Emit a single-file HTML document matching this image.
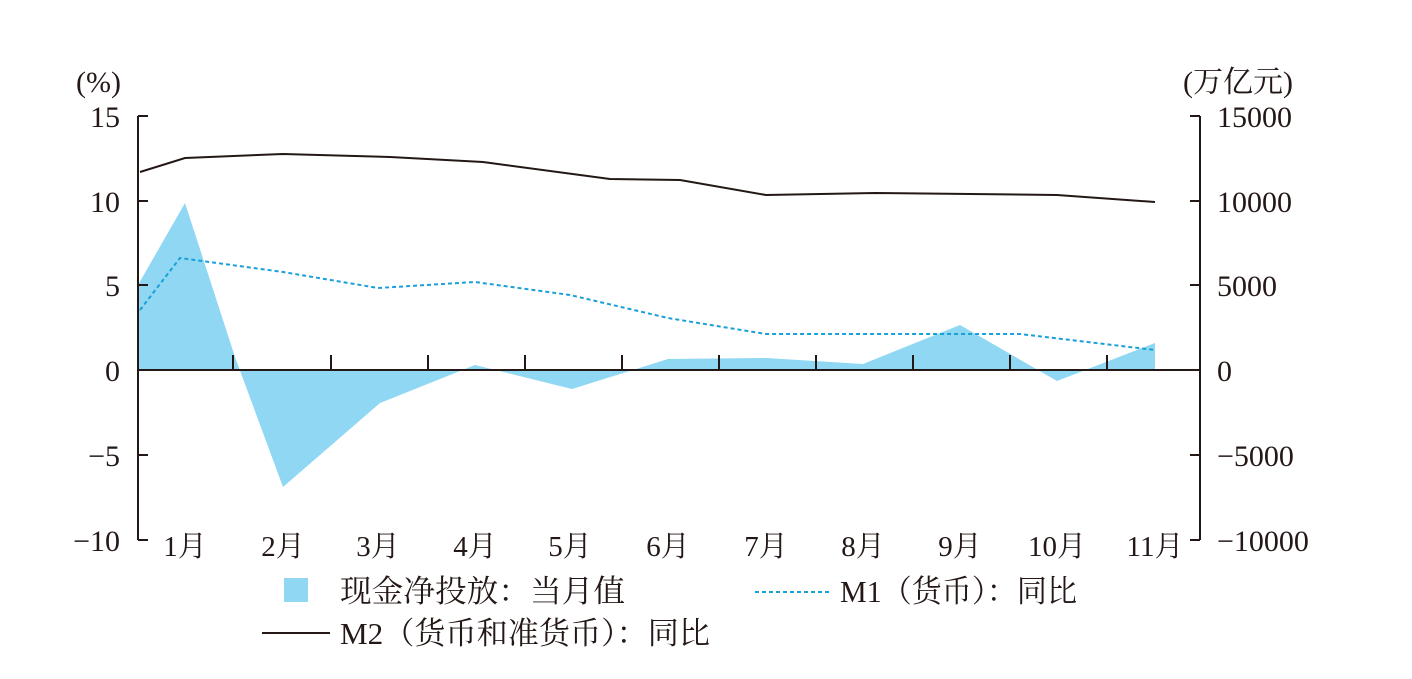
<!DOCTYPE html>
<html><head><meta charset="utf-8"><style>
body{margin:0;background:#fff}
svg text{font-family:"Liberation Serif","Noto Serif CJK SC",serif;fill:#231815}
</style></head><body>
<svg width="1412" height="674" viewBox="0 0 1412 674" xmlns="http://www.w3.org/2000/svg">
<polygon fill="#8fd7f3" points="138,370 138,285 185,203 235,357 283,487 380,403 475,365 572,389 668,359 766,358 863,364 960,325 1057,381 1155,343 1155,370"/>
<g stroke="#231815" stroke-width="2" fill="none">
<line x1="138" y1="116" x2="138" y2="540"/>
<line x1="1200" y1="116" x2="1200" y2="540"/>
<line x1="138" y1="370" x2="1200" y2="370"/>
<path d="M138 116h10M138 201h10M138 285h10M138 455h10M138 540h10"/>
<path d="M1200 116h-10M1200 201h-10M1200 285h-10M1200 455h-10M1200 540h-10"/>
<path d="M233 370v-15M331 370v-15M428 370v-15M525 370v-15M622 370v-15M719 370v-15M816 370v-15M913 370v-15M1010 370v-15M1107 370v-15"/>
</g>
<polyline fill="none" stroke="#231815" stroke-width="2" points="140,172 185,158 283,154 390,157 483,162 610,179 680,180 766,195 875,193 1057,195 1155,202"/>
<polyline fill="none" stroke="#1aa0d8" stroke-width="2" stroke-dasharray="4,3" points="140,310 180,258 283,272 378,288 475,282 570,295 668,318 766,334 960,334 1020,334 1155,350"/>
<g font-size="30" text-anchor="end">
<text x="120" y="127">15</text><text x="120" y="212">10</text><text x="120" y="296">5</text><text x="120" y="381">0</text><text x="120" y="466">−5</text><text x="120" y="551">−10</text>
</g>
<g font-size="30">
<text x="1217" y="127">15000</text><text x="1217" y="212">10000</text><text x="1217" y="296">5000</text><text x="1217" y="381">0</text><text x="1217" y="466">−5000</text><text x="1217" y="551">−10000</text>
<text x="76" y="92">(%)</text><text x="1183" y="92">(万亿元)</text>
</g>
<g font-size="29" text-anchor="middle">
<text x="185" y="556">1月</text><text x="283" y="556">2月</text><text x="378" y="556">3月</text><text x="475" y="556">4月</text><text x="570" y="556">5月</text><text x="668" y="556">6月</text><text x="766" y="556">7月</text><text x="863" y="556">8月</text><text x="960" y="556">9月</text><text x="1057" y="556">10月</text><text x="1155" y="556">11月</text>
</g>
<rect x="284" y="578" width="24" height="24" fill="#8fd7f3"/>
<text x="340" y="602" font-size="31" textLength="285" lengthAdjust="spacingAndGlyphs">现金净投放：当月值</text>
<line x1="755" y1="592" x2="830" y2="592" stroke="#1aa0d8" stroke-width="2" stroke-dasharray="4,3"/>
<text x="840" y="602" font-size="31" textLength="237" lengthAdjust="spacingAndGlyphs">M1（货币）：同比</text>
<line x1="262" y1="633" x2="330" y2="633" stroke="#231815" stroke-width="2"/>
<text x="340" y="644" font-size="31" textLength="370" lengthAdjust="spacingAndGlyphs">M2（货币和准货币）：同比</text>
</svg>
</body></html>
